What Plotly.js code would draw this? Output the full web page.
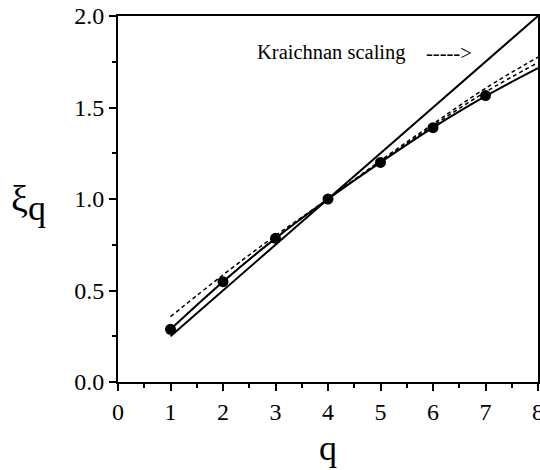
<!DOCTYPE html>
<html>
<head>
<meta charset="utf-8">
<script src="https://cdn.plot.ly/plotly-3.0.1.min.js"></script>
<style>html,body{margin:0;padding:0;background:#fff;}#chart{width:540px;height:470px;}</style>
</head>
<body>
<div id="chart"></div>
<script>
// measured data points
var qData = [1, 2, 3, 4, 5, 6, 7];
var xiData = [0.288, 0.548, 0.785, 1.0, 1.2, 1.39, 1.565];

// curves
var qLine = [1, 2, 3, 4, 5, 6, 7, 8];
var kraichnan = [0.25, 0.5, 0.75, 1.0, 1.25, 1.5, 1.75, 2.0];
var modelSolid = [0.288, 0.548, 0.785, 1.0, 1.2, 1.39, 1.562, 1.715];
var modelDashA = [0.357, 0.585, 0.80, 1.0, 1.21, 1.41, 1.605, 1.775];
var modelDashB = [0.288, 0.548, 0.787, 1.0, 1.205, 1.40, 1.585, 1.745];

var xTicks = [0, 1, 2, 3, 4, 5, 6, 7, 8];
var yTicks = [0, 0.5, 1.0, 1.5, 2.0];

var serif = '"Liberation Serif", "Times New Roman", serif';

var traces = [
  {x: qLine, y: kraichnan, mode: 'lines', line: {color: '#000', width: 2}, hoverinfo: 'skip'},
  {x: qLine, y: modelDashA, mode: 'lines', line: {color: '#000', width: 1.5, dash: '4px,3px', shape: 'spline'}, hoverinfo: 'skip'},
  {x: qLine, y: modelDashB, mode: 'lines', line: {color: '#000', width: 1.5, dash: '4px,3px', shape: 'spline'}, hoverinfo: 'skip'},
  {x: qLine, y: modelSolid, mode: 'lines', line: {color: '#000', width: 2, shape: 'spline'}, hoverinfo: 'skip'},
  {x: qData, y: xiData, mode: 'markers', marker: {color: '#000', size: 11}}
];

var layout = {
  width: 540, height: 470,
  margin: {l: 118, r: 2, t: 16, b: 88},
  paper_bgcolor: '#fff', plot_bgcolor: '#fff',
  showlegend: false,
  font: {family: serif, color: '#000'},
  xaxis: {
    range: [0, 8], tickvals: xTicks, ticktext: xTicks.map(String),
    ticks: 'outside', ticklen: 7, tickwidth: 2, tickcolor: '#000',
    ticklabeloverflow: 'allow',
    showline: true, linewidth: 2, linecolor: '#000', mirror: true,
    showgrid: false, zeroline: false,
    minor: {dtick: 0.5, ticks: 'outside', ticklen: 4, tickwidth: 2, tickcolor: '#000', showgrid: false},
    tickfont: {family: serif, size: 24, color: '#000'},
    title: {text: 'q', font: {family: serif, size: 36, color: '#000'}, standoff: 11}
  },
  yaxis: {
    range: [0, 2], tickvals: yTicks, tickformat: '.1f',
    ticks: 'outside', ticklen: 7, tickwidth: 2, tickcolor: '#000',
    ticklabeloverflow: 'allow',
    showline: true, linewidth: 2, linecolor: '#000', mirror: true,
    showgrid: false, zeroline: false,
    minor: {dtick: 0.25, ticks: 'outside', ticklen: 4, tickwidth: 2, tickcolor: '#000', showgrid: false},
    tickfont: {family: serif, size: 24, color: '#000'}
  },
  annotations: [
    {xref: 'x', yref: 'y', x: 2.61, y: 1.80, xanchor: 'left', yanchor: 'middle', showarrow: false,
     text: 'Kraichnan scaling', font: {family: serif, size: 20.5, color: '#000'}},
    {xref: 'x', yref: 'y', x: 5.83, y: 1.80, xanchor: 'left', yanchor: 'middle', showarrow: false,
     text: '----->', font: {family: serif, size: 20.5, color: '#000'}},
    {xref: 'paper', yref: 'paper', x: -0.212, y: 0.49, xanchor: 'center', yanchor: 'middle', showarrow: false,
     text: 'ξ<sub><span style="font-size:36px">q</span></sub>', font: {family: serif, size: 38, color: '#000'}}
  ]
};

Plotly.newPlot('chart', traces, layout, {displayModeBar: false, staticPlot: true});
</script>
</body>
</html>
